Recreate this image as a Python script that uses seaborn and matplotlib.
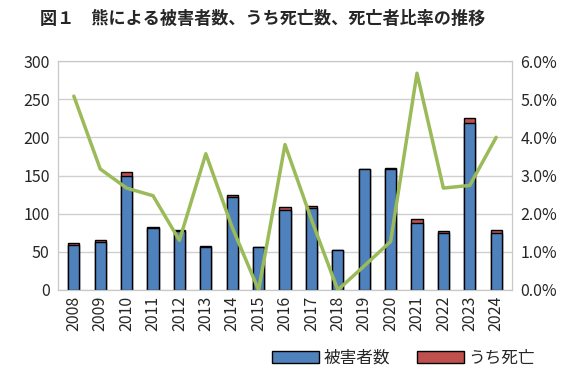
import numpy as np
import pandas as pd
import seaborn as sns
import matplotlib
matplotlib.use('Agg')
import matplotlib.pyplot as plt
from matplotlib.patches import Patch
from matplotlib.ticker import PercentFormatter

years = [str(y) for y in range(2008, 2025)]
injured = [59, 63, 150, 81, 77, 56, 122, 56, 105, 108, 53, 158, 158, 88, 75, 219, 75]
deaths = [3, 2, 4, 2, 1, 2, 2, 0, 4, 2, 0, 1, 2, 5, 2, 6, 3]
death_ratio = [5.08, 3.17, 2.67, 2.47, 1.30, 3.57, 1.64, 0.0, 3.81, 1.85, 0.0, 0.63, 1.27, 5.68, 2.67, 2.74, 4.0]

BLUE = '#4F81BD'
RED = '#C0504D'
GREEN = '#9BBB59'

sns.set_style('white')
plt.rcParams['font.family'] = ['Noto Sans CJK JP', 'DejaVu Sans']

df = pd.DataFrame({'year': years, 'injured': injured, 'deaths': deaths,
                   'total': np.array(injured) + np.array(deaths)})

fig = plt.figure(figsize=(5.76, 3.78), dpi=100)
ax = fig.add_axes([58 / 576, 1 - 290 / 378, (512 - 58) / 576, (290 - 61) / 378])

sns.barplot(data=df, x='year', y='total', color=RED, saturation=1, width=0.42,
            edgecolor='black', linewidth=1, ax=ax)
sns.barplot(data=df, x='year', y='injured', color=BLUE, saturation=1, width=0.42,
            edgecolor='black', linewidth=1, ax=ax)

ax.set_ylim(0, 300)
ax.set_yticks(range(0, 301, 50))
ax.set_xlim(-0.6, len(years) - 0.4)
ax.grid(axis='y', color='#d0d0d0', linewidth=1)
ax.set_axisbelow(True)
ax.set_xlabel('')
ax.set_ylabel('')
ax.tick_params(axis='x', rotation=90, labelsize=11.5, length=0, pad=4)
ax.tick_params(axis='y', labelsize=11.5, length=0, pad=6)
for s in ax.spines.values():
    s.set_color('#c8c8c8')

ax2 = ax.twinx()
sns.lineplot(x=np.arange(len(years)), y=death_ratio, color=GREEN, linewidth=2.5, ax=ax2)
ax2.set_ylim(0, 6)
ax2.set_yticks(np.arange(0, 6.1, 1))
ax2.yaxis.set_major_formatter(PercentFormatter(decimals=1))
ax2.tick_params(axis='y', labelsize=11.5, length=0, pad=6)
for s in ax2.spines.values():
    s.set_color('#c8c8c8')

fig.text(0.07, 0.95, '図１　熊による被害者数、うち死亡数、死亡者比率の推移',
         fontsize=12.3, fontweight='bold', ha='left', va='center')

handles = [Patch(facecolor=BLUE, edgecolor='black', label='被害者数'),
           Patch(facecolor=RED, edgecolor='black', label='うち死亡')]
fig.legend(handles=handles, loc='lower right', bbox_to_anchor=(0.955, -0.01), ncol=2,
           frameon=False, fontsize=12, handlelength=2.8, handleheight=0.7,
           columnspacing=1.6, handletextpad=0.3)

fig.savefig('out.png', dpi=100)
